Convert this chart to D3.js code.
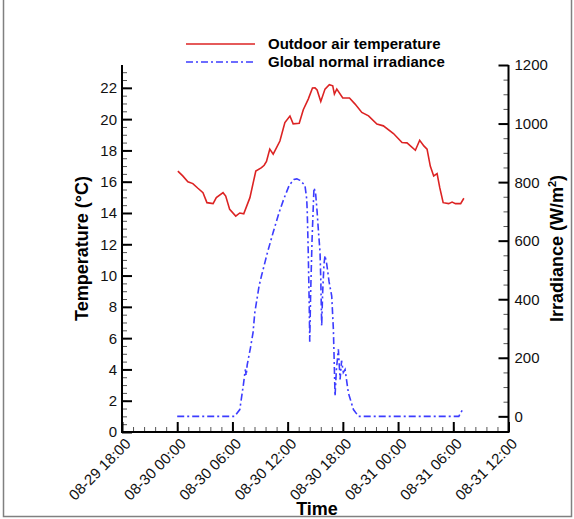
<!DOCTYPE html>
<html>
<head>
<meta charset="utf-8">
<script src="https://cdn.jsdelivr.net/npm/d3@7"></script>
<style>
  html, body { margin: 0; padding: 0; background: #fff; }
  svg { display: block; font-family: Arial, "Liberation Sans", sans-serif; }
</style>
</head>
<body>
<svg id="chart" width="574" height="519"></svg>
<script>
// Outdoor air temperature (°C), hours after 08-30 00:00
const tempHours = [0.07, 0.6, 1.16, 1.7, 2.25, 2.8, 3.23, 3.9, 4.25, 4.98, 5.27, 5.7, 6.36, 6.8, 7.23, 7.9,
  8.54, 9.16, 9.45, 9.7, 10.06, 10.43, 11.16, 11.7, 12.25, 12.6, 13.26, 13.7, 14.24, 14.7, 14.97, 15.2, 15.6,
  16.06, 16.53, 16.9, 17.08, 17.34, 17.99, 18.72, 19.33, 20.06, 20.79, 21.7, 22.4, 23.5, 24.43, 24.97, 25.88,
  26.35, 26.8, 27.15, 27.5, 27.87, 28.24, 28.53, 28.9, 29.5, 29.87, 30.24, 30.8, 31.15];
const tempValues = [16.68, 16.37, 16.0, 15.88, 15.58, 15.3, 14.66, 14.6, 14.98, 15.3, 15.08, 14.23, 13.8, 14.0, 13.95, 14.98,
  16.68, 16.9, 17.05, 17.29, 18.08, 17.76, 18.6, 19.78, 20.2, 19.7, 19.74, 20.6, 21.28, 21.99, 22.0, 21.86, 21.13,
  21.92, 22.2, 22.13, 21.6, 21.92, 21.35, 21.35, 20.96, 20.43, 20.21, 19.68, 19.57, 19.08, 18.5, 18.48, 18.01,
  18.65, 18.29, 18.08, 17.0, 16.37, 16.52, 15.62, 14.66, 14.6, 14.7, 14.6, 14.6, 14.94];

// Global normal irradiance (W/m²), hours after 08-30 00:00
const irrHours = [0, 2, 4, 6.25, 6.8, 7.2, 7.4, 7.5, 7.6, 7.96, 8.24, 8.43, 8.9, 9.16, 9.81, 10.43, 11.08, 11.59,
  12.17, 12.68, 13.0, 13.34, 13.88, 14.07, 14.13, 14.24, 14.35, 14.4, 14.5, 14.65, 14.86, 15.03, 15.2, 15.33,
  15.52, 15.6, 15.7, 15.8, 15.95, 16.06, 16.25, 16.5, 16.79, 16.97, 17.05, 17.15, 17.3, 17.51, 17.7, 17.86,
  18.05, 18.24, 18.6, 19.15, 19.7, 22, 25, 28, 30.6, 31.0];
const irrValues = [0, 0, 0, 0, 23, 110, 160, 140, 175, 234, 286, 354, 446, 480, 560, 629, 697, 743,
  789, 809, 811, 806, 789, 743, 700, 560, 370, 255, 420, 600, 780, 765, 700, 640,
  560, 470, 309, 420, 520, 549, 520, 460, 411, 297, 200, 69, 160, 229, 126, 190,
  150, 160, 80, 23, 0, 0, 0, 0, 0, 23];

const tempTicks = [0, 2, 4, 6, 8, 10, 12, 14, 16, 18, 20, 22];
const irrTicks = [0, 200, 400, 600, 800, 1000, 1200];
const seriesNames = ["Outdoor air temperature", "Global normal irradiance"];

const start = new Date(2021, 7, 30, 0, 0);
const at = h => new Date(start.getTime() + h * 3600e3);
const xStart = new Date(2021, 7, 29, 18, 0);
const xEnd = new Date(2021, 7, 31, 12, 0);

const plotL = 122, plotR = 508.5, plotT = 65, plotB = 432;
const svg = d3.select("#chart");

const x = d3.scaleTime().domain([xStart, xEnd]).range([plotL, plotR]);
const yT = d3.scaleLinear().domain([0, 23.46]).range([plotB, plotT]);
const yG = d3.scaleLinear().domain([-53.5, 1200]).range([plotB, plotT]);

const red = "#dc2323", blue = "#3c3cff";
const dashDot = "7,3,2,3";

// outer frame
svg.append("rect").attr("x", 3.5).attr("y", -2).attr("width", 568).attr("height", 518.5)
  .attr("fill", "none").attr("stroke", "#808080").attr("stroke-width", 1.5);

// minor ticks
const minorX = d3.range(0, 42 * 60 + 1, 72).map(m => new Date(xStart.getTime() + m * 60e3));
const minorT = d3.range(0, 23.46, 0.5);
const minorG = d3.range(0, 1201, 50);

function styleAxis(g, minor) {
  g.select(".domain").remove();
  g.selectAll(".tick line").attr("stroke", minor ? "#555" : "#000").attr("stroke-width", minor ? 1 : 2);
}

svg.append("g").attr("transform", `translate(0,${plotB})`)
  .call(d3.axisTop(x).tickValues(minorX).tickSize(5).tickFormat(""))
  .call(g => styleAxis(g, true));
svg.append("g").attr("transform", `translate(${plotL},0)`)
  .call(d3.axisRight(yT).tickValues(minorT).tickSize(5).tickFormat(""))
  .call(g => styleAxis(g, true));
svg.append("g").attr("transform", `translate(${plotR},0)`)
  .call(d3.axisLeft(yG).tickValues(minorG).tickSize(5).tickFormat(""))
  .call(g => styleAxis(g, true));

// major ticks and labels
svg.append("g").attr("transform", `translate(0,${plotB})`)
  .call(d3.axisTop(x).ticks(d3.timeHour.every(6)).tickSize(10).tickFormat(""))
  .call(g => styleAxis(g, false));
svg.append("g").selectAll("text")
  .data(x.ticks(d3.timeHour.every(6)))
  .join("text")
  .attr("transform", d => `translate(${x(d) + 2},${plotB + 5}) rotate(-45)`)
  .attr("text-anchor", "end").attr("dy", "0.72em")
  .attr("font-size", 15).attr("fill", "#111")
  .text(d3.timeFormat("%m-%d %H:%M"));

svg.append("g").attr("transform", `translate(${plotL},0)`)
  .call(d3.axisRight(yT).tickValues(tempTicks).tickSize(10).tickFormat(""))
  .call(g => styleAxis(g, false));
svg.append("g").selectAll("text")
  .data(tempTicks).join("text")
  .attr("x", plotL - 5).attr("y", d => yT(d)).attr("dy", "0.36em")
  .attr("text-anchor", "end").attr("font-size", 15).attr("fill", "#111")
  .text(d => d);

svg.append("g").attr("transform", `translate(${plotR},0)`)
  .call(d3.axisLeft(yG).tickValues(irrTicks).tickSize(10).tickFormat(""))
  .call(g => styleAxis(g, false));
svg.append("g").selectAll("text")
  .data(irrTicks).join("text")
  .attr("x", plotR + 6).attr("y", d => yG(d)).attr("dy", "0.36em")
  .attr("text-anchor", "start").attr("font-size", 15).attr("fill", "#111")
  .text(d => d);

// axis lines
svg.append("path").attr("d", `M${plotL},${plotT}V${plotB}H${plotR}V${plotT}`)
  .attr("fill", "none").attr("stroke", "#000").attr("stroke-width", 2);

// axis titles
svg.append("text").attr("x", 317).attr("y", 515)
  .attr("text-anchor", "middle").attr("font-size", 18).attr("font-weight", "bold").text("Time");
svg.append("text").attr("transform", `translate(88,${(plotT + plotB) / 2}) rotate(-90)`)
  .attr("text-anchor", "middle").attr("font-size", 18).attr("font-weight", "bold").text("Temperature (°C)");
const irrTitle = svg.append("text").attr("transform", `translate(563,${(plotT + plotB) / 2}) rotate(-90)`)
  .attr("text-anchor", "middle").attr("font-size", 18).attr("font-weight", "bold");
irrTitle.append("tspan").text("Irradiance (W/m");
irrTitle.append("tspan").attr("font-size", 11).attr("dy", -7).text("2");
irrTitle.append("tspan").attr("dy", 7).text(")");

// series
const tempData = tempHours.map((h, i) => [at(h), tempValues[i]]);
const irrData = irrHours.map((h, i) => [at(h), irrValues[i]]);

svg.append("path").datum(irrData)
  .attr("d", d3.line().x(d => x(d[0])).y(d => yG(d[1])))
  .attr("fill", "none").attr("stroke", blue).attr("stroke-width", 1.6)
  .attr("stroke-dasharray", dashDot);
svg.append("path").datum(tempData)
  .attr("d", d3.line().x(d => x(d[0])).y(d => yT(d[1])))
  .attr("fill", "none").attr("stroke", red).attr("stroke-width", 1.6);

// legend
const legend = svg.append("g");
[[red, null, 44, 49], [blue, dashDot, 62, 67]].forEach(([c, dash, ly, ty], i) => {
  legend.append("line").attr("x1", 186).attr("x2", 255).attr("y1", ly).attr("y2", ly)
    .attr("stroke", c).attr("stroke-width", 1.6).attr("stroke-dasharray", dash);
  legend.append("text").attr("x", 268).attr("y", ty).attr("font-size", 15)
    .attr("font-weight", "bold").text(seriesNames[i]);
});
</script>
</body>
</html>
